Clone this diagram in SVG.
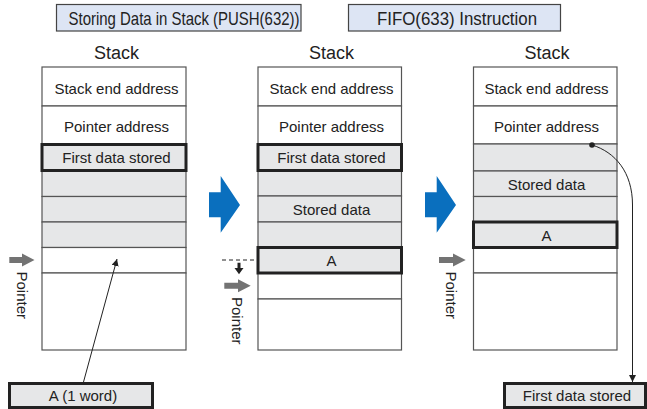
<svg xmlns="http://www.w3.org/2000/svg" width="647" height="409" viewBox="0 0 647 409">
<style>
  text { font-family: "Liberation Sans", Arial, sans-serif; fill: #222; }
  .t { font-size: 15px; text-anchor: middle; }
  .h { font-size: 18px; text-anchor: middle; }
  .ttl { font-size: 18.5px; }
  .w { fill: #ffffff; stroke: #555; stroke-width: 1.2; }
  .g { fill: #e6e7e8; stroke: #555; stroke-width: 1.2; }
  .k { fill: none; stroke: #222; stroke-width: 3; }
  .kb { fill: #e6e7e8; stroke: #222; stroke-width: 3; }
  .tb { fill: #dde5f4; stroke: #444; stroke-width: 1.2; }
  .blue { fill: #0a6fbe; }
  .gray { fill: #737373; }
  .thin { fill: none; stroke: #222; stroke-width: 1; }
</style>
<defs>
  <marker id="ah" viewBox="0 0 10 10" refX="10" refY="5" markerWidth="7" markerHeight="7" markerUnits="userSpaceOnUse" orient="auto">
    <path d="M0,0 L10,5 L0,10 Z" fill="#222"/>
  </marker>
</defs>

<g id="title-push">
  <rect class="tb" x="56.5" y="4.5" width="244.5" height="26.5"/>
  <text class="ttl" x="68.5" y="25" textLength="231" lengthAdjust="spacingAndGlyphs">Storing Data in Stack (PUSH(632))</text>
</g>
<g id="title-fifo">
  <rect class="tb" x="348.5" y="4.5" width="212" height="26.5"/>
  <text class="ttl" x="377" y="25" textLength="160" lengthAdjust="spacingAndGlyphs">FIFO(633) Instruction</text>
</g>

<g id="stack1">
  <text class="h" x="116.5" y="59">Stack</text>
  <rect class="w" x="42" y="67" width="144" height="39"/>
  <rect class="w" x="42" y="106" width="144" height="38"/>
  <rect class="g" x="42" y="144" width="144" height="27"/>
  <rect class="g" x="42" y="171" width="144" height="25.5"/>
  <rect class="g" x="42" y="196.5" width="144" height="25.5"/>
  <rect class="g" x="42" y="222" width="144" height="25.5"/>
  <rect class="w" x="42" y="247.5" width="144" height="25.5"/>
  <rect class="w" x="42" y="273" width="144" height="77"/>
  <rect class="k" x="42" y="144.5" width="144" height="26"/>
  <text class="t" x="116.5" y="93.5">Stack end address</text>
  <text class="t" x="116.5" y="132">Pointer address</text>
  <text class="t" x="116.5" y="163">First data stored</text>
</g>

<g id="stack2">
  <text class="h" x="331.5" y="59">Stack</text>
  <rect class="w" x="258" y="67" width="143.5" height="39"/>
  <rect class="w" x="258" y="106" width="143.5" height="38"/>
  <rect class="g" x="258" y="144" width="143.5" height="27"/>
  <rect class="g" x="258" y="171" width="143.5" height="25"/>
  <rect class="g" x="258" y="196" width="143.5" height="26"/>
  <rect class="g" x="258" y="222" width="143.5" height="25.5"/>
  <rect class="g" x="258" y="247.5" width="143.5" height="25.5"/>
  <rect class="w" x="258" y="273" width="143.5" height="26"/>
  <rect class="w" x="258" y="299" width="143.5" height="51"/>
  <rect class="k" x="258" y="144.5" width="143.5" height="26"/>
  <rect class="k" x="258" y="247.5" width="143.5" height="25.5"/>
  <text class="t" x="331.5" y="93.5">Stack end address</text>
  <text class="t" x="331.5" y="132">Pointer address</text>
  <text class="t" x="331.5" y="163">First data stored</text>
  <text class="t" x="331.5" y="215">Stored data</text>
  <text class="t" x="331.5" y="266">A</text>
</g>

<g id="stack3">
  <text class="h" x="547" y="59">Stack</text>
  <rect class="w" x="473.5" y="67" width="143.5" height="39"/>
  <rect class="w" x="473.5" y="106" width="143.5" height="38"/>
  <rect class="g" x="473.5" y="144" width="143.5" height="27"/>
  <rect class="g" x="473.5" y="171" width="143.5" height="25.5"/>
  <rect class="g" x="473.5" y="196.5" width="143.5" height="25.5"/>
  <rect class="g" x="473.5" y="222" width="143.5" height="25.5"/>
  <rect class="w" x="473.5" y="247.5" width="143.5" height="25.5"/>
  <rect class="w" x="473.5" y="273" width="143.5" height="77"/>
  <rect class="k" x="473.5" y="222" width="143.5" height="25.5"/>
  <text class="t" x="546.5" y="93.5">Stack end address</text>
  <text class="t" x="546.5" y="132">Pointer address</text>
  <text class="t" x="546.5" y="189.5">Stored data</text>
  <text class="t" x="546.5" y="240.5">A</text>
</g>

<g id="box-a">
  <rect class="kb" x="9.5" y="383.5" width="143" height="24"/>
  <text class="t" x="83" y="401">A (1 word)</text>
</g>
<g id="box-first">
  <rect class="kb" x="504.5" y="383.5" width="141" height="24"/>
  <text class="t" x="577" y="401">First data stored</text>
</g>

<g id="pointer1">
  <path class="gray" d="M9.3,257 L22,257 L22,253.5 L34.5,260 L22,266.5 L22,263 L9.3,263 Z"/>
  <text transform="translate(16.5,271.5) rotate(90)" style="font-size:15px">Pointer</text>
</g>
<g id="pointer2">
  <path class="gray" d="M224.3,282.7 L238,282.7 L238,279.2 L250.7,285.7 L238,292.2 L238,288.7 L224.3,288.7 Z"/>
  <text transform="translate(231.5,297) rotate(90)" style="font-size:15px">Pointer</text>
</g>
<g id="pointer3">
  <path class="gray" d="M439,257 L453,257 L453,253.5 L465.7,260 L453,266.5 L453,263 L439,263 Z"/>
  <text transform="translate(446,271.5) rotate(90)" style="font-size:15px">Pointer</text>
</g>

<g id="connectors">
  <path class="blue" d="M209,192.3 L220.7,192.3 L220.7,176 L240,205 L220.7,232.7 L220.7,217.3 L209,217.3 Z"/>
  <path class="blue" d="M425,192.3 L436.7,192.3 L436.7,176 L456,205 L436.7,232.7 L436.7,217.3 L425,217.3 Z"/>
  <line x1="83.5" y1="382" x2="117" y2="259" class="thin" marker-end="url(#ah)"/>
  <line x1="222" y1="260" x2="257" y2="260" stroke="#222" stroke-width="1" stroke-dasharray="4,3"/>
  <path d="M237.5,262.7 L240.5,262.7 L240.5,268 L243.5,268 L239,274.3 L234.5,268 L237.5,268 Z" fill="#222"/>
  <circle cx="592" cy="145" r="2.8" fill="#222"/>
  <path class="thin" d="M592,145 C615,152 632.5,172 632.5,205 L632.5,382" marker-end="url(#ah)"/>
</g>
</svg>
